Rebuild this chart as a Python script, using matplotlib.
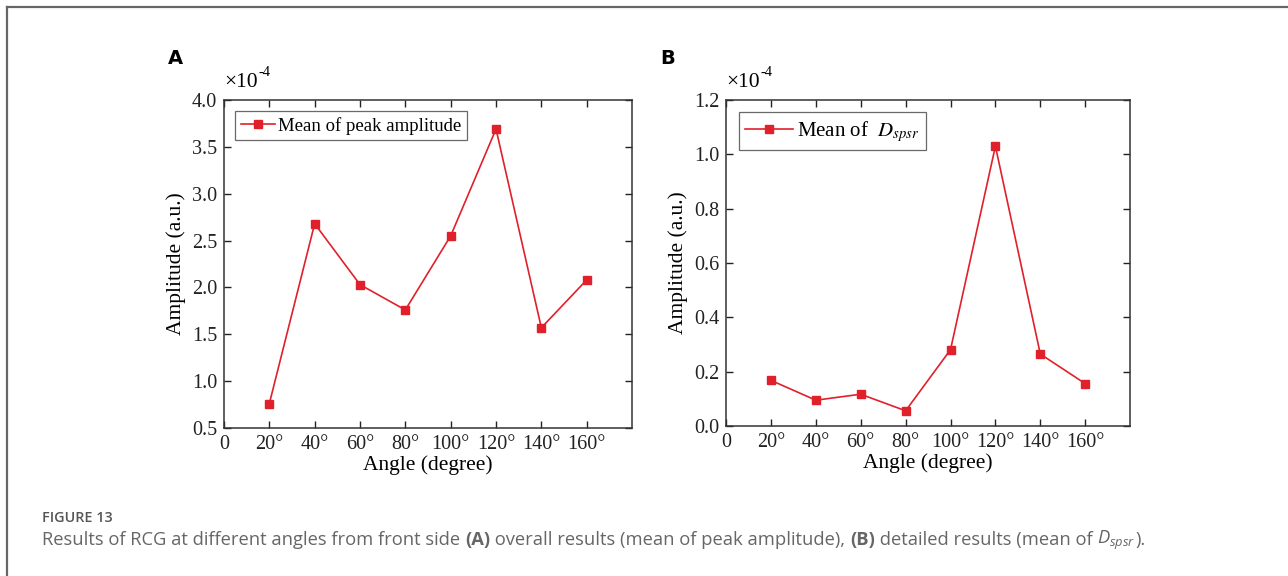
import numpy as np
import matplotlib.pyplot as plt
from matplotlib.lines import Line2D

# ---------------- data (amplitudes in units of 1e-4) ----------------
angles = [20, 40, 60, 80, 100, 120, 140, 160]
peak_amp = [0.76, 2.68, 2.03, 1.76, 2.55, 3.69, 1.57, 2.08]
d_spsr = [0.168, 0.095, 0.117, 0.056, 0.281, 1.03, 0.265, 0.156]
xticks = [0, 20, 40, 60, 80, 100, 120, 140, 160]
xticklabels = ["0"] + [f"{a}°" for a in xticks[1:]]

plt.rcParams['font.family'] = ['Liberation Serif', 'DejaVu Serif']
plt.rcParams['mathtext.fontset'] = 'custom'
plt.rcParams['mathtext.it'] = 'Open Sans:italic'
plt.rcParams['mathtext.rm'] = 'Open Sans'

red = '#e0202a'
fig = plt.figure(figsize=(12.88, 5.76), dpi=100)

def panel(rect, y, ylim, yticks, label, handlelen, legsize):
    ax = fig.add_axes(rect)
    ax.plot(angles, y, color=red, lw=1.2, marker='s', ms=5.5, mfc=red, mec=red, label=label)
    ax.set_xlim(0, 180)
    ax.set_ylim(*ylim)
    ax.set_xticks(xticks)
    ax.set_xticklabels(xticklabels)
    ax.set_yticks(yticks)
    ax.set_yticklabels([f"{v:.1f}" for v in yticks])
    ax.tick_params(direction='in', top=True, right=True, length=5, width=1,
                   labelsize=14.5, colors='#222222', pad=5)
    for s in ax.spines.values():
        s.set_linewidth(1.1)
        s.set_color('#333333')
    ax.set_xlabel('Angle (degree)', fontsize=15.5, labelpad=1)
    ax.set_ylabel('Amplitude (a.u.)', fontsize=15.5, labelpad=4)
    leg = ax.legend(loc='upper left', fontsize=legsize, frameon=True, fancybox=False,
                    edgecolor='#444444', handlelength=handlelen, borderpad=0.3,
                    borderaxespad=0.6, handletextpad=0.2)
    leg.get_frame().set_linewidth(0.9)
    for t in leg.get_texts():
        t.set_math_fontfamily('stix')
    # scale factor label above the y axis
    ax.text(0.0, 1.025, '×10', transform=ax.transAxes, fontsize=15.5,
            ha='left', va='bottom')
    ax.annotate('-4', xy=(0.0, 1.025), xycoords='axes fraction', xytext=(24.5, 9),
                textcoords='offset points', fontsize=10.5, ha='left', va='bottom')
    return ax

axA = panel([0.1739, 0.2569, 0.3168, 0.5695], peak_amp, (0.5, 4.0),
            np.arange(0.5, 4.01, 0.5), 'Mean of peak amplitude', 1.8, 13.5)
axB = panel([0.5637, 0.2604, 0.3137, 0.5660], d_spsr, (0.0, 1.2),
            np.arange(0.0, 1.21, 0.2), r'Mean of  $D_{spsr}$', 2.3, 15)

fig.text(175 / 1288, 1 - 58 / 576, 'A', family='DejaVu Sans', weight='bold',
         fontsize=14, ha='center', va='center')
fig.text(668 / 1288, 1 - 58 / 576, 'B', family='DejaVu Sans', weight='bold',
         fontsize=14, ha='center', va='center')

# border of the figure card
fig.add_artist(Line2D([7 / 1288, 1], [1 - 7 / 576] * 2, color='#666666', lw=1.6))
fig.add_artist(Line2D([7 / 1288] * 2, [0, 1 - 7 / 576], color='#666666', lw=1.6))

# caption
fig.text(42 / 1288, 1 - 518 / 576, 'FIGURE 13', family='Open Sans', weight='semibold',
         fontsize=10.4, color='#555555', va='center')
pieces = [("Results of RCG at different angles from front side ", 'normal'),
          ("(A)", 'bold'),
          (" overall results (mean of peak amplitude), ", 'normal'),
          ("(B)", 'bold'),
          (" detailed results (mean of ", 'normal'),
          (r"$D_{spsr}$", 'normal'),
          (").", 'normal')]
renderer = fig.canvas.get_renderer()
x = 42
for txt, w in pieces:
    t = fig.text(x / 1288, 1 - 540 / 576, txt, family='Open Sans', weight=w,
                 fontsize=13.2, color='#666666', va='center', math_fontfamily='custom')
    bb = t.get_window_extent(renderer)
    x += bb.width

fig.savefig('out.png', dpi=100)
